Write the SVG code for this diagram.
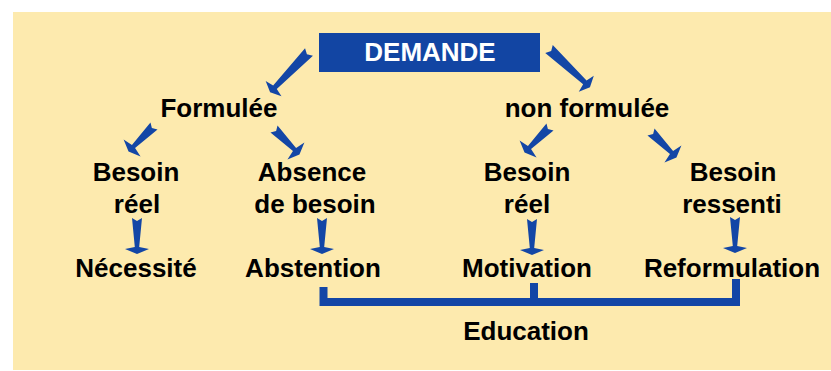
<svg xmlns="http://www.w3.org/2000/svg" xmlns:xlink="http://www.w3.org/1999/xlink" width="831" height="371" viewBox="0 0 831 371">
  <style>
    .lbl { font-family: "Liberation Sans", Arial, sans-serif; font-weight: bold; font-size: 26px; fill: #000; text-anchor: middle; }
    .title { fill: #fff; }
    .arrow { fill: #1346a6; }
    .bracket { fill: none; stroke: #1346a6; stroke-width: 8; stroke-linejoin: miter; }
  </style>
  <defs>
    <!-- tapered arrow pointing down (+y), tail at origin -->
    <path id="arrowShort" d="M -5 0 L 0 3 L 5 0 L 2.2 29 L 12 31 L 0 36 L -12 31 L -2.2 29 Z"/>
    <path id="arrowLong" d="M -5.5 0 L 0 3 L 5.5 0 L 2.5 49 L 11 51 L 0 56 L -11 51 L -2.5 49 Z"/>
  </defs>

  <rect x="13" y="12" width="818" height="358" fill="#fdeaae"/>

  <g id="demande">
    <rect x="319" y="33" width="221" height="39" fill="#1245a3"/>
    <text class="lbl title" x="430" y="61">DEMANDE</text>
  </g>
  <g id="formulee"><text class="lbl" x="219" y="117">Formulée</text></g>
  <g id="non-formulee"><text class="lbl" x="587" y="117">non formulée</text></g>
  <g id="besoin-reel-1"><text class="lbl" x="136" y="181">Besoin</text><text class="lbl" x="137" y="213">réel</text></g>
  <g id="absence-besoin"><text class="lbl" x="312" y="181">Absence</text><text class="lbl" x="315" y="213">de besoin</text></g>
  <g id="besoin-reel-2"><text class="lbl" x="527" y="181">Besoin</text><text class="lbl" x="527" y="213">réel</text></g>
  <g id="besoin-ressenti"><text class="lbl" x="733" y="181">Besoin</text><text class="lbl" x="732" y="213">ressenti</text></g>
  <g id="necessite"><text class="lbl" x="136" y="277">Nécessité</text></g>
  <g id="abstention"><text class="lbl" x="313" y="277">Abstention</text></g>
  <g id="motivation"><text class="lbl" x="527" y="277">Motivation</text></g>
  <g id="reformulation"><text class="lbl" x="732" y="277">Reformulation</text></g>
  <g id="education"><text class="lbl" x="526" y="340">Education</text></g>

  <g id="connectors">
    <use xlink:href="#arrowLong" class="arrow" transform="translate(309 52) rotate(44)"/>
    <use xlink:href="#arrowLong" class="arrow" transform="translate(549 49) rotate(-47)"/>
    <use xlink:href="#arrowShort" class="arrow" transform="translate(154 126) rotate(45)"/>
    <use xlink:href="#arrowShort" class="arrow" transform="translate(274 129) rotate(-45)"/>
    <use xlink:href="#arrowShort" class="arrow" transform="translate(550 127) rotate(45)"/>
    <use xlink:href="#arrowShort" class="arrow" transform="translate(651 132) rotate(-45)"/>
    <use xlink:href="#arrowShort" class="arrow" transform="translate(137 218)"/>
    <use xlink:href="#arrowShort" class="arrow" transform="translate(322 218)"/>
    <use xlink:href="#arrowShort" class="arrow" transform="translate(532 219)"/>
    <use xlink:href="#arrowShort" class="arrow" transform="translate(735 217)"/>
    <path class="bracket" d="M 323.5 287 V 302 H 736 V 279"/>
    <path class="bracket" d="M 534 283 V 302"/>
  </g>
</svg>
